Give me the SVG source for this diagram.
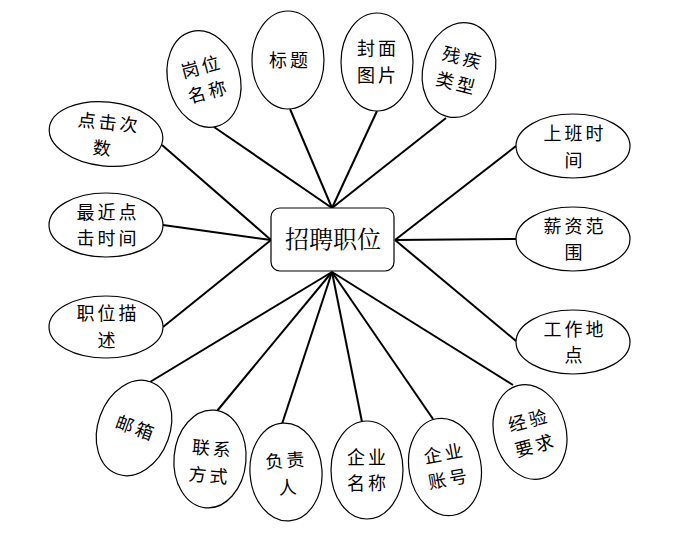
<svg xmlns="http://www.w3.org/2000/svg" width="675" height="537" viewBox="0 0 675 537">
<style>
.e{fill:#fff;stroke:#000;stroke-width:1.2}
.c{stroke:#000;stroke-width:2;fill:none}
text{font-family:"Noto Sans CJK SC","Noto Sans",sans-serif;font-size:18px;letter-spacing:3px;fill:#000;text-anchor:middle}
.t{font-family:"Noto Serif CJK SC","Noto Sans CJK SC",serif;font-size:24px;letter-spacing:0}
</style>
<rect width="675" height="537" fill="#fff"/>
<g id="connectors">
<line class="c" x1="214" y1="127" x2="332" y2="208"/>
<line class="c" x1="290" y1="109" x2="332" y2="208"/>
<line class="c" x1="377" y1="111" x2="332" y2="208"/>
<line class="c" x1="446" y1="118" x2="332" y2="208"/>
<line class="c" x1="162" y1="145" x2="271" y2="240"/>
<line class="c" x1="163" y1="225" x2="271" y2="240"/>
<line class="c" x1="163" y1="327" x2="271" y2="240"/>
<line class="c" x1="516" y1="146" x2="395" y2="240"/>
<line class="c" x1="516" y1="239" x2="395" y2="240"/>
<line class="c" x1="516" y1="341" x2="395" y2="240"/>
<line class="c" x1="150" y1="382" x2="332" y2="272"/>
<line class="c" x1="217" y1="411" x2="332" y2="272"/>
<line class="c" x1="282" y1="424" x2="332" y2="272"/>
<line class="c" x1="362" y1="422" x2="332" y2="272"/>
<line class="c" x1="433" y1="419" x2="332" y2="272"/>
<line class="c" x1="513" y1="385" x2="332" y2="272"/>
</g>
<g id="center">
<rect x="271" y="208" width="123" height="63" rx="9" fill="#fff" stroke="#000" stroke-width="1.2"/>
<text class="t" x="333" y="248">招聘职位</text>
</g>
<g id="n-gangwei" transform="rotate(-15 204 79)">
<ellipse class="e" cx="204" cy="79" rx="36" ry="49"/>
<text x="205" y="73">岗位<tspan x="205" dy="26">名称</tspan></text>
</g>
<g id="n-biaoti">
<ellipse class="e" cx="288" cy="60" rx="36" ry="49"/>
<text x="290" y="67">标题</text>
</g>
<g id="n-fengmian">
<ellipse class="e" cx="377" cy="62" rx="36" ry="49"/>
<text x="378" y="55">封面<tspan x="378" dy="27">图片</tspan></text>
</g>
<g id="n-canji" transform="rotate(14 459 70)">
<ellipse class="e" cx="459" cy="70" rx="36" ry="48"/>
<text x="460" y="64">残疾<tspan x="460" dy="26">类型</tspan></text>
</g>
<g id="n-dianji" transform="rotate(6 106 134)">
<ellipse class="e" cx="106" cy="134" rx="57" ry="32"/>
<text x="108" y="129">点击次<tspan x="105" dy="26">数</tspan></text>
</g>
<g id="n-zuijin">
<ellipse class="e" cx="106" cy="225" rx="57" ry="32"/>
<text x="108" y="219">最近点<tspan x="108" dy="26">击时间</tspan></text>
</g>
<g id="n-miaoshu">
<ellipse class="e" cx="106" cy="327" rx="57" ry="31"/>
<text x="108" y="320">职位描<tspan x="108" dy="27">述</tspan></text>
</g>
<g id="n-shangban">
<ellipse class="e" cx="573" cy="146" rx="57" ry="32"/>
<text x="575" y="140">上班时<tspan x="575" dy="27">间</tspan></text>
</g>
<g id="n-xinzi">
<ellipse class="e" cx="573" cy="239" rx="57" ry="32"/>
<text x="575" y="233">薪资范<tspan x="575" dy="26">围</tspan></text>
</g>
<g id="n-gongzuo">
<ellipse class="e" cx="573" cy="342" rx="57" ry="32"/>
<text x="575" y="336">工作地<tspan x="575" dy="26">点</tspan></text>
</g>
<g id="n-youxiang" transform="rotate(20 134 428)">
<ellipse class="e" cx="134" cy="428" rx="36" ry="49"/>
<text x="136" y="434">邮箱</text>
</g>
<g id="n-lianxi" transform="rotate(5 210 459)">
<ellipse class="e" cx="210" cy="459" rx="36" ry="49"/>
<text x="212" y="455">联系<tspan x="211" dy="27">方式</tspan></text>
</g>
<g id="n-fuze" transform="rotate(-4 286 472)">
<ellipse class="e" cx="286" cy="472" rx="36" ry="49"/>
<text x="287" y="467">负责<tspan x="288" dy="27">人</tspan></text>
</g>
<g id="n-qiyemc">
<ellipse class="e" cx="367" cy="470" rx="36" ry="49"/>
<text x="368" y="464">企业<tspan x="368" dy="26">名称</tspan></text>
</g>
<g id="n-qiyezh" transform="rotate(-10 445 467)">
<ellipse class="e" cx="445" cy="467" rx="36" ry="49"/>
<text x="447" y="460">企业<tspan x="447" dy="26">账号</tspan></text>
</g>
<g id="n-jingyan" transform="rotate(-15 530 432)">
<ellipse class="e" cx="530" cy="432" rx="36" ry="48"/>
<text x="532" y="427">经验<tspan x="532" dy="26">要求</tspan></text>
</g>
</svg>
